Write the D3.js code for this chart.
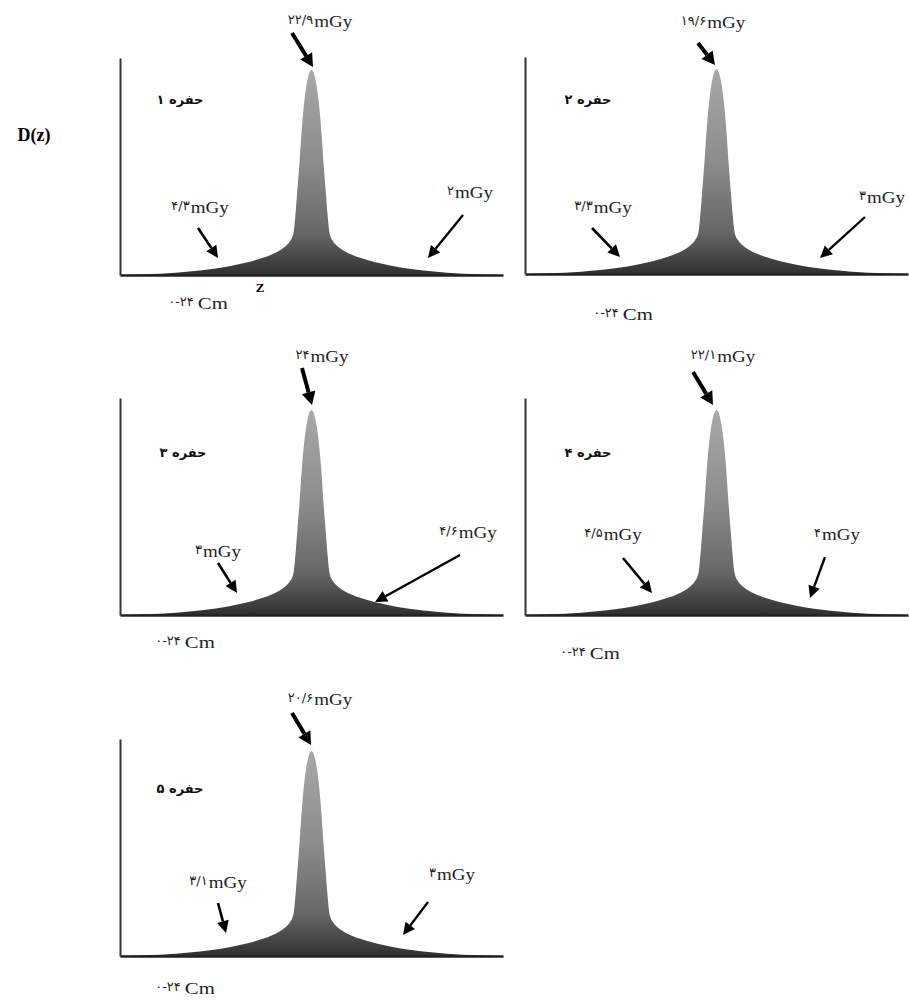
<!DOCTYPE html>
<html>
<head>
<meta charset="utf-8">
<script src="https://cdn.jsdelivr.net/npm/d3@7"></script>
<style>
  html, body { margin: 0; padding: 0; background: #fff; }
  svg { display: block; }
</style>
</head>
<body>
<svg id="chart" width="909" height="1000"></svg>
<script>
// ---------------- DATA ----------------
// Position along z (cm), axis spans 0–24 cm
const zValues = [0, 1, 2, 3, 4, 5, 6, 7, 8, 9, 9.5, 10, 10.5, 10.65, 10.8, 10.9, 11.0, 11.1, 11.25, 11.4, 11.6, 11.8, 12,
                 12.2, 12.4, 12.6, 12.75, 12.9, 13.0, 13.1, 13.2, 13.35, 13.5, 14, 14.5, 15, 16, 17, 18, 19, 20, 21, 22, 23, 24];
// Dose profile relative to peak dose (same shape in every panel)
const relDose = [0, 0.002, 0.005, 0.009, 0.015, 0.022, 0.032, 0.045, 0.062, 0.085, 0.1, 0.12, 0.15, 0.165, 0.185, 0.22, 0.3, 0.4, 0.55, 0.72, 0.88, 0.97, 1.0,
                 0.97, 0.88, 0.72, 0.55, 0.4, 0.3, 0.22, 0.185, 0.165, 0.15, 0.12, 0.1, 0.085, 0.062, 0.045, 0.032, 0.022, 0.015, 0.009, 0.005, 0.002, 0];

const panelNames  = ["حفره ۱", "حفره ۲", "حفره ۳", "حفره ۴", "حفره ۵"];
const peakDose    = [22.9, 19.6, 24, 22.1, 20.6];
const peakLabels  = ["۲۲/۹", "۱۹/۶", "۲۴", "۲۲/۱", "۲۰/۶"];
const leftLabels  = ["۴/۳", "۳/۳", "۳", "۴/۵", "۳/۱"];
const rightLabels = ["۲", "۳", "۴/۶", "۴", "۳"];
const unitLabel   = "mGy";
const rangeLabel  = "۰-۲۴";
const rangeUnit   = "Cm";
const zDomain     = [0, 24];

// ---------------- LAYOUT ----------------
const panelPos = [
  {x0: 120, base: 275},
  {x0: 525, base: 274},
  {x0: 120, base: 615},
  {x0: 525, base: 615},
  {x0: 120, base: 956}
];
const plotW = 383, peakH = 205, axisH = 217;

// annotation offsets (px) relative to panel origin: label [dx, dy], arrow [x1,y1,x2,y2]
const annot = [
  { peakL:[200,-248], peakA:[172,-242,193,-208], name:[60,-171],
    leftL:[80,-62],  leftA:[78,-47,98,-17],   rightL:[350,-77], rightA:[343,-60,308,-17], range:[78,34] },
  { peakL:[188,-246], peakA:[173,-231,190,-209], name:[63,-170],
    leftL:[78,-61],  leftA:[67,-46,95,-17],   rightL:[357,-71], rightA:[340,-57,295,-16], range:[98,46] },
  { peakL:[202,-253], peakA:[182,-247,192,-210], name:[63,-158],
    leftL:[98,-58],  leftA:[98,-52,117,-22],  rightL:[348,-77], rightA:[340,-60,255,-13], range:[65,33] },
  { peakL:[198,-253], peakA:[168,-243,188,-210], name:[63,-158],
    leftL:[88,-75],  leftA:[98,-57,127,-22],  rightL:[312,-75], rightA:[300,-58,285,-17], range:[65,44] },
  { peakL:[200,-251], peakA:[172,-243,191,-211], name:[60,-163],
    leftL:[98,-68],  leftA:[98,-53,106,-23],  rightL:[332,-76], rightA:[308,-54,283,-21], range:[65,38] }
];

// ---------------- DRAW ----------------
const svg = d3.select("#chart");
const defs = svg.append("defs");
const grad = defs.append("linearGradient").attr("id", "peakGrad")
  .attr("x1", 0).attr("y1", 0).attr("x2", 0).attr("y2", 1);
[[0, "#a8a8a8"], [0.45, "#8c8c8c"], [0.8, "#666666"], [1, "#303030"]].forEach(([o, c]) =>
  grad.append("stop").attr("offset", o).attr("stop-color", c));

function arrow(g, a, w, hl, hw) {
  const [x1, y1, x2, y2] = a;
  const ang = Math.atan2(y2 - y1, x2 - x1);
  const bx = x2 - hl * Math.cos(ang), by = y2 - hl * Math.sin(ang);
  g.append("line").attr("x1", x1).attr("y1", y1).attr("x2", bx).attr("y2", by)
    .attr("stroke", "#000").attr("stroke-width", w);
  const px = -Math.sin(ang), py = Math.cos(ang);
  g.append("path")
    .attr("d", `M${x2},${y2}L${bx + px * hw},${by + py * hw}L${bx - px * hw},${by - py * hw}Z`)
    .attr("fill", "#000");
}

function mixedLabel(g, pos, digits, unit, unitLen, gap) {
  const t = g.append("text").attr("x", pos[0]).attr("y", pos[1])
    .attr("text-anchor", "middle").attr("direction", "ltr").attr("fill", "#222");
  t.append("tspan").attr("font-family", "DejaVu Sans").attr("font-size", 13)
    .attr("letter-spacing", 1).attr("dy", -3).text(digits);
  t.append("tspan").attr("font-family", "Liberation Serif").attr("font-size", 16)
    .attr("textLength", unitLen).attr("lengthAdjust", "spacingAndGlyphs")
    .attr("dx", gap).attr("dy", 3).text(unit);
}

peakDose.forEach((pk, i) => {
  const p = panelPos[i], an = annot[i];
  const g = svg.append("g").attr("transform", `translate(${p.x0},${p.base})`);
  const x = d3.scaleLinear().domain(zDomain).range([0, plotW]);
  const y = d3.scaleLinear().domain([0, pk]).range([0, -peakH]);
  const yAxisScale = d3.scaleLinear().domain([0, pk * axisH / peakH]).range([0, -axisH]);

  const pts = zValues.map((z, k) => ({z, d: relDose[k] * pk}));
  const area = d3.area().x(d => x(d.z)).y0(0).y1(d => y(d.d)).curve(d3.curveMonotoneX);
  g.append("path").datum(pts).attr("d", area).attr("fill", "url(#peakGrad)");

  const xa = g.append("g").call(d3.axisBottom(x).tickValues([]).tickSizeOuter(0));
  xa.select(".domain").attr("stroke", "#222").attr("stroke-width", 2.5);
  const ya = g.append("g").call(d3.axisLeft(yAxisScale).tickValues([]).tickSizeOuter(0));
  ya.select(".domain").attr("stroke", "#333").attr("stroke-width", 2);

  mixedLabel(g, an.peakL, peakLabels[i], unitLabel, 38, 1);
  mixedLabel(g, an.leftL, leftLabels[i], unitLabel, 38, 1);
  mixedLabel(g, an.rightL, rightLabels[i], unitLabel, 38, 1);
  arrow(g, an.peakA, 4, 13, 7);
  arrow(g, an.leftA, 2.6, 12, 6);
  arrow(g, an.rightA, 2.3, 12, 6);

  g.append("text").attr("x", an.name[0]).attr("y", an.name[1])
    .attr("text-anchor", "middle").attr("direction", "rtl")
    .attr("font-family", "DejaVu Sans").attr("font-weight", "bold").attr("font-size", 13)
    .attr("fill", "#111").text(panelNames[i]);

  mixedLabel(g, an.range, rangeLabel, rangeUnit, 30, 4);
});

svg.append("text").attr("x", 34).attr("y", 141).attr("text-anchor", "middle")
  .attr("font-family", "Liberation Serif").attr("font-weight", "bold").attr("font-size", 18)
  .text("D(z)");
svg.append("text").attr("x", 260).attr("y", 292).attr("text-anchor", "middle")
  .attr("font-family", "Liberation Serif").attr("font-weight", "bold").attr("font-size", 13)
  .text("Z");
</script>
</body>
</html>
